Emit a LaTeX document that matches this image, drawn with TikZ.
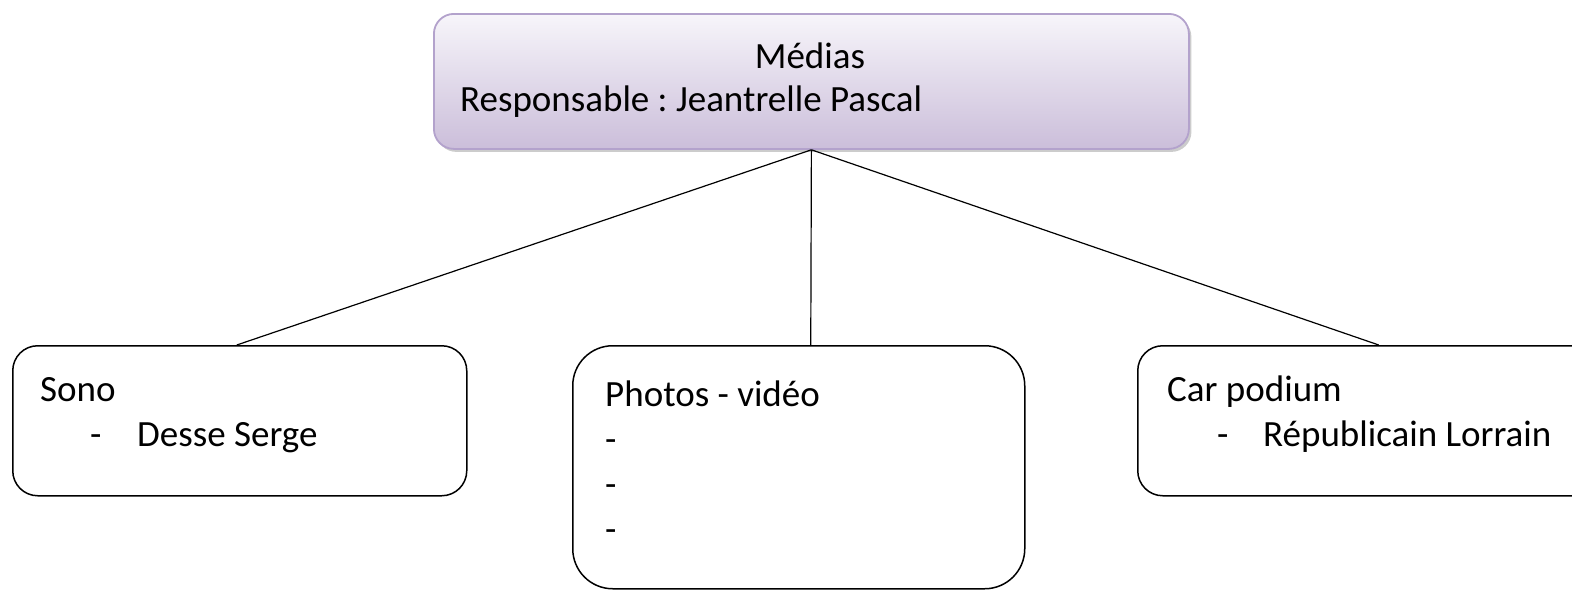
\documentclass[tikz,border=0pt]{standalone}
\usepackage{fontspec}
\setmainfont{Carlito}
\usetikzlibrary{shadows}
\definecolor{lilas}{HTML}{B3A2CC}
\definecolor{lilasclair}{HTML}{F7F5FA}
\definecolor{lilasfonce}{HTML}{CBBEDA}
\frenchspacing
\begin{document}
\begin{tikzpicture}[x=1pt,y=-1pt,
head/.style={draw=lilas, line width=1.8pt, rounded corners=20pt, top color=lilasclair, bottom color=lilasfonce,
  drop shadow={shadow xshift=2.5pt, shadow yshift=-3pt, fill=black!40}},
team/.style={draw=black, line width=1.5pt, fill=white},
link/.style={draw=black, line width=1.2pt},
txt/.style={anchor=base west, inner sep=0pt, align=left, font=\fontsize{37}{45}\selectfont}]
\useasboundingbox (0,0) rectangle (1572,590);
% boites
\node[head, anchor=north west, minimum width=755pt, minimum height=135pt] (medias) at (433,13) {};
\node[team, rounded corners=25pt, anchor=north west, minimum width=454pt, minimum height=150pt] (sono) at (12,345) {};
\node[team, rounded corners=40pt, anchor=north west, minimum width=452pt, minimum height=243pt] (photo) at (572,345) {};
\node[team, rounded corners=25pt, anchor=north west, minimum width=482pt, minimum height=150pt] (car) at (1137,345) {};
% liaisons
\foreach \n/\dx in {sono/-3,photo/12,car/0}
    \draw[link] (medias.south) -- ([xshift=\dx pt]\n.north);
% textes (base = derniere ligne)
\node[txt, anchor=base] (titre) at (810,68) {Médias};
\node[txt] (resp) at (460,111) {Responsable : Jeantrelle Pascal};
\node[txt] (sonotxt) at (40,446) {Sono\\\hspace*{50pt}\makebox[47pt][l]{-}Desse Serge};
\node[txt] (phototxt) at (605,541) {Photos - vidéo\\-\\-\\-};
\node[txt] (cartxt) at (1167,446) {Car podium\\\hspace*{50pt}\makebox[46pt][l]{-}Républicain Lorrain};
\end{tikzpicture}
\end{document}
